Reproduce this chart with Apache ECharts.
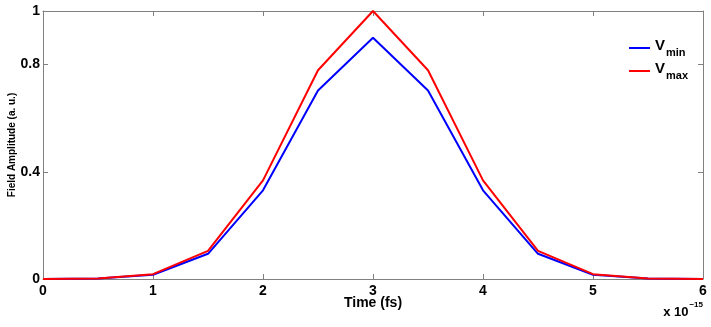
<!DOCTYPE html>
<html>
<head>
<meta charset="utf-8">
<script src="https://cdn.jsdelivr.net/npm/echarts@6/dist/echarts.min.js"></script>
<style>
  html, body { margin: 0; padding: 0; background: #fff; }
  #chart { width: 711px; height: 327px; }
</style>
</head>
<body>
<div id="chart"></div>
<script>
// time samples (in units of 1e-15 s)
const times = [0, 0.5, 1, 1.5, 2, 2.5, 3, 3.5, 4, 4.5, 5, 5.5, 6]
const vMin = [0, 0.002, 0.016, 0.094, 0.331, 0.703, 0.9, 0.703, 0.331, 0.094, 0.016, 0.002, 0]
const vMax = [0, 0.002, 0.018, 0.105, 0.368, 0.779, 1.0, 0.779, 0.368, 0.105, 0.018, 0.002, 0]
const seriesNames = ['V_min', 'V_max']
const seriesColors = ['#0000ff', '#ff0000']
const xTicks = [0, 1, 2, 3, 4, 5, 6]
const yTicks = [0, 0.4, 0.8, 1]

const boxColor = '#808080'
const font = 'Liberation Sans, Arial, sans-serif'

const chart = echarts.init(document.getElementById('chart'))

const pairs = arr => times.map((t, i) => [t, arr[i]])

const boxAxis = (extra) => Object.assign({
  type: 'value',
  axisLine: { show: true, onZero: false, lineStyle: { color: boxColor, width: 1 } },
  axisTick: { show: true, inside: true, length: 5, lineStyle: { color: boxColor } },
  splitLine: { show: false }
}, extra)

chart.setOption({
  animation: false,
  backgroundColor: '#fff',
  grid: { left: 43, right: 8, top: 11, bottom: 48, containLabel: false, outerBoundsMode: 'none' },
  legend: {
    show: true,
    orient: 'vertical',
    left: 624,
    top: 33,
    itemWidth: 21,
    itemHeight: 2,
    itemGap: 3,
    icon: 'rect',
    data: seriesNames,
    formatter: name => {
      const parts = name.split('_')
      return '{v|' + parts[0] + '}{s|' + parts[1] + '}'
    },
    textStyle: {
      rich: {
        v: { fontFamily: font, fontWeight: 'bold', fontSize: 15, color: '#000', verticalAlign: 'top' },
        s: { fontFamily: font, fontWeight: 'bold', fontSize: 11, color: '#000', verticalAlign: 'bottom', padding: [9, 0, 0, 1] }
      }
    }
  },
  xAxis: [
    boxAxis({
      min: 0, max: 6, interval: 1,
      name: 'Time (fs)',
      nameLocation: 'middle',
      nameGap: 17,
      nameMoveOverlap: false,
      nameTextStyle: { fontFamily: font, fontWeight: 'bold', fontSize: 14, color: '#000', verticalAlign: 'top' },
      axisTick: { show: true, inside: true, length: 5, lineStyle: { color: boxColor }, customValues: xTicks },
      axisLabel: { show: true, customValues: xTicks, margin: 5, fontFamily: font, fontWeight: 'bold', fontSize: 14, color: '#000' }
    }),
    boxAxis({
      position: 'top', min: 0, max: 6, interval: 1,
      axisTick: { show: true, inside: true, length: 5, lineStyle: { color: boxColor }, customValues: xTicks },
      axisLabel: { show: false }
    })
  ],
  yAxis: [
    boxAxis({
      min: 0, max: 1,
      name: 'Field Amplitude (a. u.)',
      nameLocation: 'middle',
      nameGap: 26,
      nameMoveOverlap: false,
      nameTextStyle: { fontFamily: font, fontWeight: 'bold', fontSize: 10, color: '#000' },
      axisTick: { show: true, inside: true, length: 5, lineStyle: { color: boxColor }, customValues: yTicks },
      axisLabel: { show: true, customValues: yTicks, margin: 3, fontFamily: font, fontWeight: 'bold', fontSize: 14, color: '#000' }
    }),
    boxAxis({
      position: 'right', min: 0, max: 1,
      axisTick: { show: true, inside: true, length: 5, lineStyle: { color: boxColor }, customValues: yTicks },
      axisLabel: { show: false }
    })
  ],
  series: [
    { name: seriesNames[0], type: 'line', data: pairs(vMin), showSymbol: false, symbol: 'none',
      lineStyle: { color: seriesColors[0], width: 2 }, itemStyle: { color: seriesColors[0] } },
    { name: seriesNames[1], type: 'line', data: pairs(vMax), showSymbol: false, symbol: 'none',
      lineStyle: { color: seriesColors[1], width: 2 }, itemStyle: { color: seriesColors[1] } }
  ],
  graphic: [{
    type: 'text',
    right: 8,
    top: 301,
    style: {
      text: '{a|x 10}{b|\u221215}',
      rich: {
        a: { fontFamily: font, fontWeight: 'bold', fontSize: 13, color: '#000', verticalAlign: 'bottom', padding: [5, 0, 0, 0] },
        b: { fontFamily: font, fontWeight: 'bold', fontSize: 8, color: '#000', verticalAlign: 'top', padding: [0, 0, 0, 1] }
      }
    }
  }]
})
</script>
</body>
</html>
